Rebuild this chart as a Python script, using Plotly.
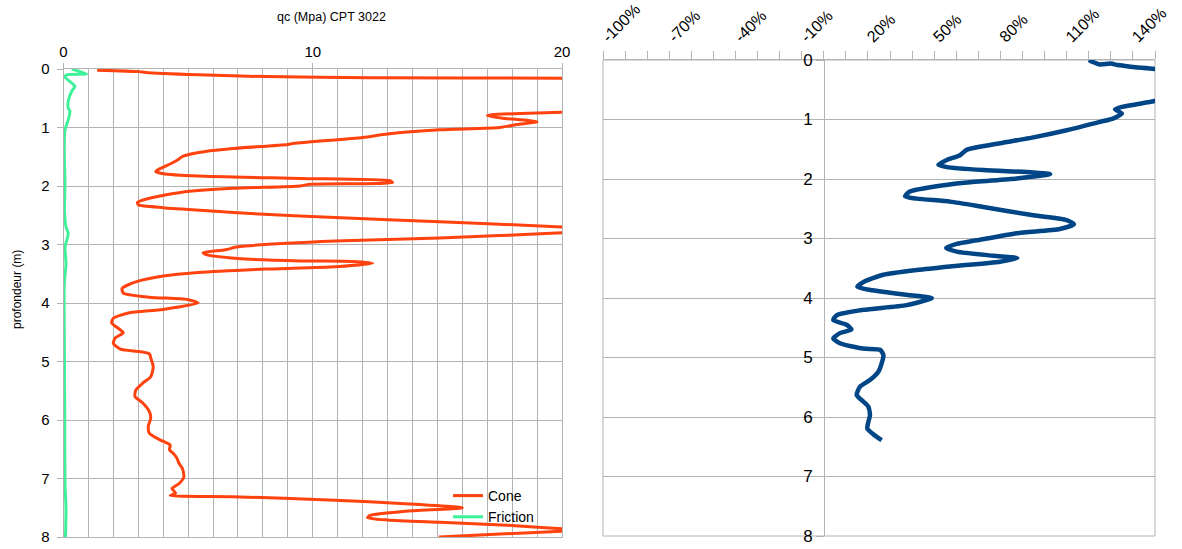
import plotly.graph_objects as go

W, H = 1182, 549

# --- CPT 3022: cone resistance qc (MPa) vs depth (m) ---
cone_depth = [0.02, 0.045, 0.06, 0.10, 0.13, 0.15, 0.16, 0.25, 0.45, 0.65, 0.74, 0.78, 0.80, 0.84,
              0.90, 0.95, 1.00, 1.04, 1.11, 1.17, 1.27, 1.29, 1.36, 1.41, 1.49, 1.56, 1.62, 1.72,
              1.755, 1.79, 1.83, 1.87, 1.91, 1.94, 1.97, 2.00, 2.04, 2.11, 2.21, 2.28, 2.32, 2.37,
              2.43, 2.47, 2.54, 2.61, 2.70, 2.75, 2.80, 2.89, 2.94, 3.04, 3.09, 3.14, 3.17, 3.24,
              3.28, 3.29, 3.32, 3.38, 3.42, 3.48, 3.54, 3.64, 3.75, 3.83, 3.90, 3.94, 4.00, 4.11,
              4.17, 4.26, 4.34, 4.46, 4.51, 4.60, 4.69, 4.79, 4.83, 4.87, 4.94, 5.09, 5.26, 5.37,
              5.49, 5.60, 5.71, 5.86, 5.97, 6.11, 6.23, 6.34, 6.43, 6.51, 6.57, 6.66, 6.74, 6.83,
              6.97, 7.09, 7.17, 7.25, 7.29, 7.31, 7.37, 7.43, 7.50, 7.56, 7.63, 7.67, 7.71, 7.75,
              7.80, 7.86, 7.88, 7.90, 8.00]
cone_qc = [1.35, 3.04, 3.3, 5.4, 8.1, 12.3, 20.0, 26.0, 28.0, 25.0, 20.0, 17.2, 17.0, 17.6,
           19.0, 18.2, 17.5, 15.1, 13.0, 12.0, 9.25, 9.0, 6.8, 5.7, 4.8, 4.56, 4.3, 3.8,
           3.7, 4.0, 5.4, 9.5, 13.1, 13.2, 9.9, 9.5, 6.8, 4.7, 3.45, 2.97, 3.0, 4.0,
           6.1, 7.5, 10.9, 15.1, 20.0, 22.0, 20.0, 15.1, 10.9, 7.0, 6.5, 5.6, 5.7, 7.0,
           9.5, 11.6, 12.4, 10.9, 8.15, 5.4, 4.0, 2.9, 2.35, 2.4, 3.45, 4.97, 5.4, 4.0,
           2.6, 2.0, 1.93, 2.28, 2.4, 2.07, 2.0, 2.28, 3.04, 3.45, 3.5, 3.6, 3.5, 3.18,
           2.9, 2.87, 3.18, 3.45, 3.5, 3.4, 3.45, 3.87, 4.28, 4.25, 4.4, 4.56, 4.63, 4.77,
           4.83, 4.63, 4.35, 4.5, 4.28, 6.77, 10.9, 13.7, 16.0, 13.7, 12.3, 12.2, 13.0, 15.1,
           17.8, 20.0, 21.0, 20.0, 15.06]

# --- sleeve friction (MPa) vs depth (m) ---
fric_depth = [0.0, 0.085, 0.10, 0.14, 0.24, 0.30, 0.38, 0.55, 0.67, 0.72, 0.87, 1.04, 1.38,
              1.95, 2.41, 2.70, 2.81, 2.93, 3.04, 3.33, 3.67, 5.0, 6.0, 7.08, 7.53, 8.0]
fric_val = [0.33, 0.93, 0.13, 0.06, 0.33, 0.46, 0.33, 0.19, 0.19, 0.26, 0.19, 0.06, 0.03,
            0.06, 0.04, 0.10, 0.19, 0.13, 0.06, 0.10, 0.03, 0.04, 0.05, 0.06, 0.10, 0.08]

# --- right panel: percentage profile vs depth (m) ---
pct_depth = [0.0, 0.035, 0.075, 0.06, 0.085, 0.12, 0.15, 0.30, 0.50, 0.69, 0.795, 0.83, 0.90,
             0.98, 1.04, 1.18, 1.30, 1.40, 1.51, 1.60, 1.68, 1.76, 1.80, 1.85, 1.89, 1.92,
             1.99, 2.06, 2.13, 2.21, 2.29, 2.33, 2.38, 2.47, 2.61, 2.69, 2.76, 2.84, 2.91,
             3.03, 3.09, 3.16, 3.22, 3.29, 3.33, 3.39, 3.47, 3.53, 3.61, 3.73, 3.81, 3.87,
             3.95, 4.00, 4.12, 4.20, 4.29, 4.37, 4.45, 4.53, 4.59, 4.68, 4.76, 4.85, 4.87,
             4.96, 5.10, 5.24, 5.38, 5.49, 5.63, 5.74, 5.83, 5.97, 6.08, 6.19, 6.29, 6.39]
pct_val = [1.20, 1.22, 1.25, 1.30, 1.33, 1.41, 1.50, 1.70, 1.75, 1.50, 1.342, 1.319, 1.35,
           1.312, 1.251, 1.10, 0.949, 0.798, 0.647, 0.617, 0.557, 0.519, 0.557, 0.723, 0.949, 1.025,
           0.874, 0.647, 0.496, 0.39, 0.368, 0.421, 0.572, 0.723, 0.949, 1.10, 1.133, 1.069, 0.874,
           0.693, 0.602, 0.554, 0.602, 0.768, 0.877, 0.798, 0.572, 0.421, 0.27, 0.18, 0.152, 0.22,
           0.38, 0.489, 0.375, 0.178, 0.058, 0.043, 0.103, 0.125, 0.073, 0.043, 0.073, 0.178, 0.255,
           0.27, 0.262, 0.247, 0.209, 0.164, 0.149, 0.179, 0.202, 0.209, 0.202, 0.197, 0.224, 0.262]

# tick labels of the percentage axis
pct_ticks = [-1.0, -0.7, -0.4, -0.1, 0.2, 0.5, 0.8, 1.1, 1.4]
pct_labels = ["-100%", "-70%", "-40%", "-10%", "20%", "50%", "80%", "110%", "140%"]

GRID = "#b3b3b3"
FONT = "Liberation Sans, Arial, sans-serif"

fig = go.Figure()
fig.add_trace(go.Scatter(x=cone_qc, y=cone_depth, name="Cone", mode="lines",
                         line=dict(color="#ff420e", width=3, shape="spline", smoothing=0.6),
                         xaxis="x", yaxis="y"))
fig.add_trace(go.Scatter(x=fric_val, y=fric_depth, name="Friction", mode="lines",
                         line=dict(color="#3ff29a", width=3, shape="spline", smoothing=0.6),
                         xaxis="x", yaxis="y"))
fig.add_trace(go.Scatter(x=pct_val, y=pct_depth, name="ratio", mode="lines", showlegend=False,
                         line=dict(color="#004586", width=4.5, shape="spline", smoothing=0.6),
                         xaxis="x2", yaxis="y2"))

fig.update_layout(
    width=W, height=H, autosize=False,
    margin=dict(l=0, r=0, t=0, b=0, autoexpand=False),
    paper_bgcolor="white", plot_bgcolor="white",
    font=dict(family=FONT, color="#000000"),
    xaxis=dict(domain=[63.5 / W, 562 / W], range=[0, 20], side="top", anchor="y",
               tick0=0, dtick=10, ticks="outside", ticklen=5, tickcolor=GRID,
               showgrid=True, gridcolor=GRID, gridwidth=1,
               minor=dict(dtick=1, showgrid=True, gridcolor=GRID, ticks=""),
               showline=True, linecolor=GRID, mirror=True, zeroline=False,
               automargin=False, tickfont=dict(size=15)),
    yaxis=dict(domain=[1 - 537 / H, 1 - 69 / H], range=[8, 0], anchor="x",
               tick0=0, dtick=1, ticks="outside", ticklen=6, tickcolor=GRID,
               showgrid=True, gridcolor=GRID, showline=True, linecolor=GRID, mirror=True,
               zeroline=False, automargin=False, ticklabelstandoff=4,
               tickfont=dict(size=15)),
    xaxis2=dict(domain=[603 / W, 1155 / W], range=[-1, 1.5], side="top", anchor="y2",
                tickvals=pct_ticks, ticktext=pct_labels, tickangle=-45,
                ticks="outside", ticklen=8, tickcolor=GRID, ticklabelstandoff=-1,
                minor=dict(dtick=0.1, tick0=0, ticks="outside", ticklen=8, tickcolor=GRID,
                           showgrid=False),
                showgrid=False, showline=True, linecolor=GRID, zeroline=False,
                automargin=False, tickfont=dict(size=16)),
    yaxis2=dict(domain=[1 - 536 / H, 1 - 60 / H], range=[8, 0], anchor="free",
                position=824 / W, tick0=0, dtick=1, ticks="outside", ticklen=8,
                tickcolor=GRID, showgrid=True, gridcolor=GRID, showline=True,
                linecolor=GRID, zeroline=False, automargin=False, tickfont=dict(size=17)),
    legend=dict(x=448 / W, y=1 - 480 / H, xanchor="left", yanchor="top",
                bgcolor="rgba(0,0,0,0)", borderwidth=0, font=dict(size=14),
                tracegroupgap=0),
    shapes=[dict(type="rect", xref="x2 domain", yref="y2 domain", x0=0, x1=1, y0=0, y1=1,
                 line=dict(color=GRID, width=1), layer="below")],
    annotations=[
        dict(text="qc (Mpa) CPT 3022", x=331 / W, y=1 - 17 / H, xref="paper", yref="paper",
             showarrow=False, xanchor="center", yanchor="middle", font=dict(size=12.5)),
        dict(text="profondeur (m)", x=17 / W, y=1 - 290 / H, xref="paper", yref="paper",
             showarrow=False, textangle=-90, xanchor="center", yanchor="middle",
             font=dict(size=12)),
    ],
)

fig.write_html("out.html")
